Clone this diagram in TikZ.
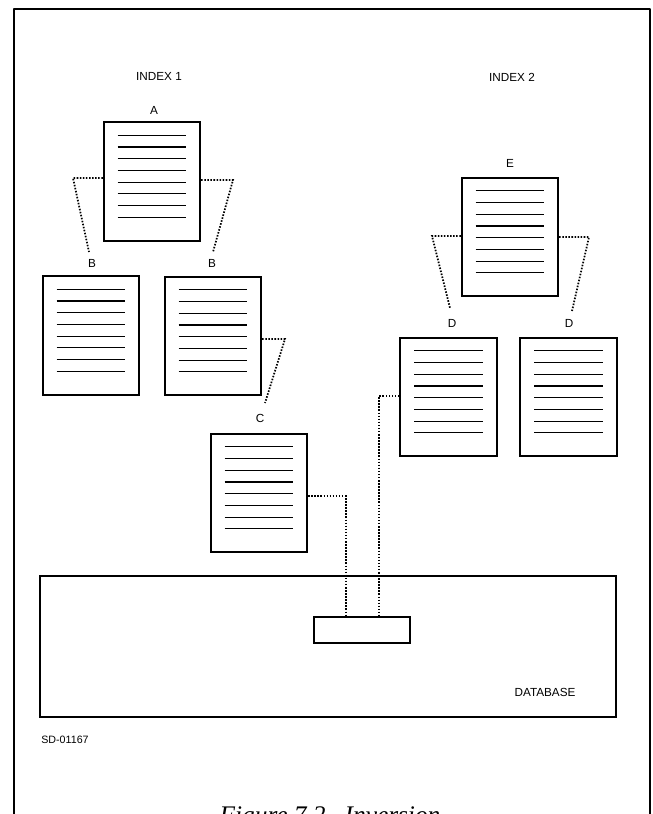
\documentclass[tikz,border=0pt]{standalone}
\usepackage{fontspec}
\newfontfamily\lblfont{Liberation Sans}
\newfontfamily\capfont{Liberation Serif}
\begin{document}
\begin{tikzpicture}[x=0.75pt,y=-0.75pt,
  lbl/.style={font=\lblfont\fontsize{8.8}{10}\selectfont, inner sep=0pt},
  docbox/.style={draw, line width=1.3pt, minimum width=72.5pt, minimum height=89pt,
    inner sep=0pt, fill=white,
    path picture={
      \foreach \k in {0,...,7}
        \draw[line width=0.85pt]
          ([xshift=10.5pt,yshift=-9.8pt-\k*8.8pt]path picture bounding box.north west) --
          ([xshift=-10.5pt,yshift=-9.8pt-\k*8.8pt]path picture bounding box.north east);
    }},
  conn/.style={line width=1.3pt, dash pattern=on 1.15pt off 1.15pt},
  frame/.style={line width=2pt, line join=round}]

\useasboundingbox (0,0) rectangle (653,814);
\clip (0,0) rectangle (653,814);
\fill[white] (0,0) rectangle (653,814);

% outer frame, open at the bottom
\draw[frame] (14,840) -- (14,9) -- (650,9) -- (650,840);

% index headings
\node[lbl] (idx1) at (159,76) {INDEX 1};
\node[lbl] (idx2) at (512,77) {INDEX 2};

% index blocks
\node[docbox] (A)  at (152,181.5) {};
\node[docbox] (B1) at (91,335.5) {};
\node[docbox] (B2) at (213,336) {};
\node[docbox] (C)  at (259,493) {};
\node[docbox] (E)  at (510,237) {};
\node[docbox] (D1) at (448.5,397) {};
\node[docbox] (D2) at (568.5,397) {};

% block letters
\node[lbl] (labA)  at (154,110) {A};
\node[lbl] (labB1) at (92,263) {B};
\node[lbl] (labB2) at (212,263) {B};
\node[lbl] (labC)  at (260,418) {C};
\node[lbl] (labE)  at (510,163) {E};
\node[lbl] (labD1) at (452,323) {D};
\node[lbl] (labD2) at (569,323) {D};

% database and its record
\node[draw, line width=0.9pt, minimum width=432pt, minimum height=105.75pt, inner sep=0pt]
  (db) at (328,646.5) {};
\node[draw, line width=1.2pt, minimum width=72pt, minimum height=19.5pt, inner sep=0pt]
  (rec) at (362,630) {};
\node[lbl] (dblab) at (545,692) {DATABASE};

% pointer bends
\coordinate (a1) at (73,178);
\coordinate (a2) at (89,252);
\coordinate (a3) at (233,180);
\coordinate (a4) at (213,252);
\coordinate (b1) at (285,339);
\coordinate (b2) at (265,403);
\coordinate (e1) at (432,236);
\coordinate (e2) at (450,308);
\coordinate (e3) at (589,237);
\coordinate (e4) at (572,311);
\coordinate (c1) at (346,496);
\coordinate (d1) at (379,396);

% dotted pointers
\draw[conn] (A.west |- a1) -- (a1) -- (a2);
\draw[conn] (A.east |- a3) -- (a3) -- (a4);
\draw[conn] (B2.east |- b1) -- (b1) -- (b2);
\draw[conn] (E.west |- e1) -- (e1) -- (e2);
\draw[conn] (E.east |- e3) -- (e3) -- (e4);
\draw[conn] (C.east |- c1) -- (c1) -- (c1 |- rec.north);
\draw[conn] (D1.west |- d1) -- (d1) -- (d1 |- rec.north);

% drawing number and caption
\node[lbl, font=\lblfont\fontsize{8}{9}\selectfont] (sd) at (65,740) {SD-01167};
\node[anchor=base, inner sep=0pt, font=\capfont\itshape\fontsize{19}{22}\selectfont]
  (cap) at (330,823) {Figure 7.2.\ \ Inversion};
\end{tikzpicture}
\end{document}
